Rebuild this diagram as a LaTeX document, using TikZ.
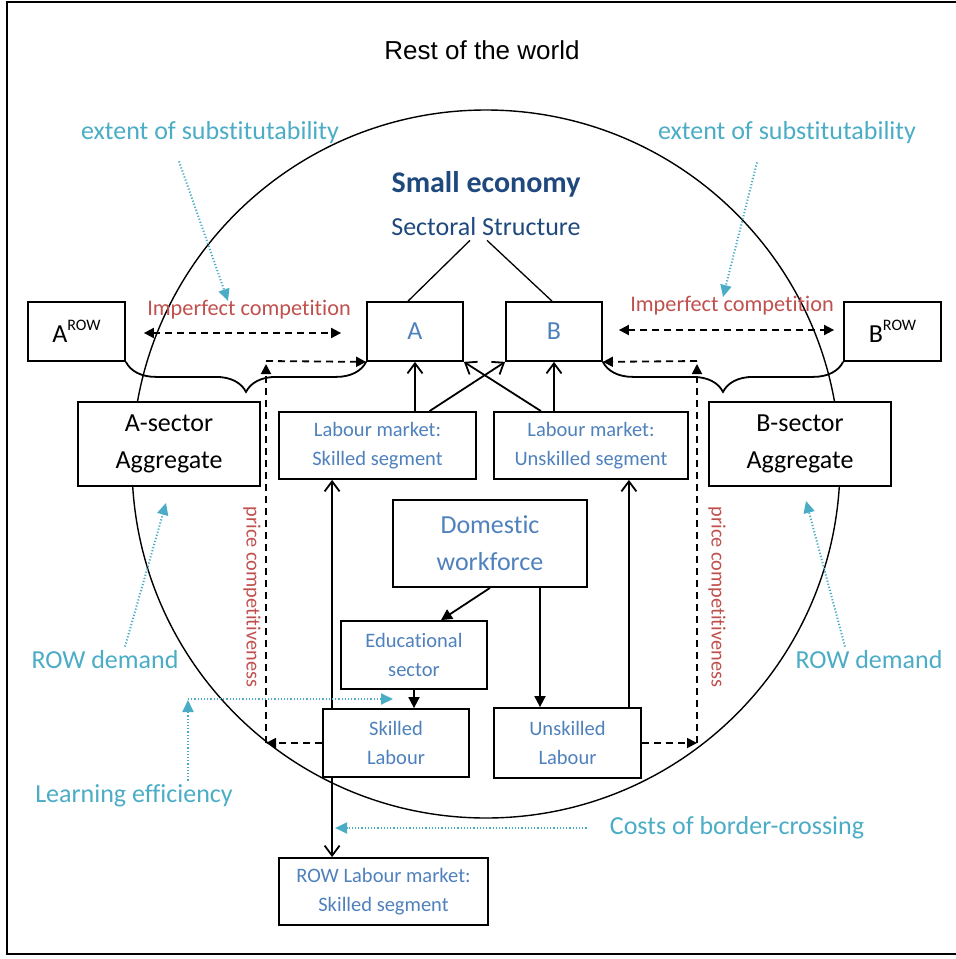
\documentclass[tikz,border=0pt]{standalone}
\usepackage{fontspec}
\setmainfont[Ligatures=CommonOff]{Carlito}
\newfontfamily\arialfont{Liberation Sans}
\usetikzlibrary{arrows.meta,decorations.pathreplacing}

\definecolor{boxblue}{RGB}{79,129,189}
\definecolor{darkblue}{RGB}{31,73,125}
\definecolor{compred}{RGB}{192,80,77}
\definecolor{notecyan}{RGB}{75,172,198}

\begin{document}
\begin{tikzpicture}[x=1pt,y=-1pt,line width=1.8pt,
    box/.style = {draw, fill=white, inner sep=0pt, align=center,
        text=boxblue, font=\fontsize{20.5}{28.5}\selectfont},
    bigbox/.style = {box, font=\fontsize{26}{37}\selectfont},
    aggbox/.style = {bigbox, text=black},
    note/.style = {text=notecyan, font=\fontsize{26}{30}\selectfont},
    comp/.style = {text=compred, font=\fontsize{22.3}{26}\selectfont},
    flow/.style = {-{Straight Barb[length=10pt,width=15pt]}},
    push/.style = {-{Triangle[length=11pt,width=11pt]}},
    link/.style = {dash pattern=on 7pt off 5pt,
        -{Triangle[length=10pt,width=10pt]}},
    hint/.style = {notecyan, line width=2pt, dash pattern=on 1.2pt off 2pt,
        -{Triangle[length=12pt,width=11pt]}}]

\useasboundingbox (0,0) rectangle (956,959);

% Rest of the world
\draw[line width=2pt] (962,1.5) -- (7,1.5) -- (7,954) -- (962,954);
\node[font=\arialfont\fontsize{26}{30}\selectfont] (world) at (482,50) {Rest of the world};

% Small economy
\draw[line width=1.4pt] (486,464) circle[radius=354];
\node[text=darkblue, font=\bfseries\fontsize{30}{34}\selectfont] (eco) at (486,184) {Small economy};
\node[text=darkblue, font=\fontsize{26}{30}\selectfont] (sect) at (486,227) {Sectoral Structure};

% Sectors
\node[box, minimum width=96pt, minimum height=59pt, font=\fontsize{26}{30}\selectfont] (A) at (415,331.5) {A};
\node[box, minimum width=96pt, minimum height=59pt, font=\fontsize{26}{30}\selectfont] (B) at (554,331.5) {B};
\node[aggbox, minimum width=97pt, minimum height=59pt] (AROW) at (76.5,331.5)
    {A\raisebox{12pt}{\fontsize{16}{16}\selectfont ROW}};
\node[aggbox, minimum width=97pt, minimum height=59pt] (BROW) at (892.5,331.5)
    {B\raisebox{12pt}{\fontsize{16}{16}\selectfont ROW}};
\node[aggbox, minimum width=182pt, minimum height=84pt] (Aagg) at (169,444) {A-sector\\Aggregate};
\node[aggbox, minimum width=182pt, minimum height=84pt] (Bagg) at (800,444) {B-sector\\Aggregate};

\draw[line width=1.3pt] ([xshift=-16pt]sect.south) -- ([xshift=-7pt]A.north);
\draw[line width=1.3pt] ([xshift=1pt]sect.south) -- ([xshift=-2pt]B.north);

\draw[decorate, decoration={brace, mirror, amplitude=30pt}] (AROW.south east) -- (A.south west);
\draw[decorate, decoration={brace, mirror, amplitude=30pt}] (B.south east) -- (BROW.south west);

% Labour markets
\node[box, minimum width=197pt, minimum height=67pt] (LMs) at (377.5,445.5) {Labour market:\\Skilled segment};
\node[box, minimum width=194pt, minimum height=67pt] (LMu) at (591,445.5) {Labour market:\\Unskilled segment};
\node[box, minimum width=209pt, minimum height=67pt] (ROWLM) at (383.5,891.5) {ROW Labour market:\\Skilled segment};

\draw[flow] (LMs.north -| A.south) -- (A.south);
\draw[flow] ([xshift=52pt]LMs.north) -- (B.south west);
\draw[flow] ([xshift=-50pt]LMu.north) -- (A.south east);
\draw[flow] (LMu.north -| B.south) -- (B.south);

% Workforce
\node[bigbox, minimum width=194pt, minimum height=87pt] (Dom) at (490,543.5) {Domestic\\workforce};
\node[box, minimum width=146pt, minimum height=68pt] (Edu) at (414,655) {Educational\\sector};
\node[box, minimum width=146pt, minimum height=68pt] (SkL) at (396,743) {Skilled\\Labour};
\node[box, minimum width=147pt, minimum height=70pt] (UnL) at (567.5,743) {Unskilled\\Labour};

\draw[push] (Dom.south) -- ([xshift=27pt]Edu.north);
\coordinate (dw) at ([xshift=-27.5pt]UnL.north);
\draw[push] (dw |- Dom.south) -- (dw);
\draw[push] (Edu.south) -- (Edu.south |- SkL.north);

\coordinate (sk) at ([xshift=10pt]SkL.north west);
\draw[flow] (sk) -- (sk |- LMs.south);
\draw[flow] (sk |- SkL.south) -- (sk |- ROWLM.north);
\coordinate (un) at ([xshift=-13pt]UnL.north east);
\draw[flow] (un) -- (un |- LMu.south);

% Price competitiveness
\coordinate (pcA) at (266,361);
\draw[link] (SkL.west) -- (SkL.west -| pcA);
\draw[link] (SkL.west -| pcA) -- ([yshift=-3pt]pcA);
\draw[link] (pcA) -- (A.south west);
\coordinate (pcB) at (697,361);
\draw[link] (UnL.east) -- (UnL.east -| pcB);
\draw[link] (UnL.east -| pcB) -- ([yshift=-3pt]pcB);
\draw[link] (pcB) -- (B.south east);
\node[comp, rotate=-90, font=\fontsize{20.3}{24}\selectfont] (pcl) at (252,597) {price competitiveness};
\node[comp, rotate=-90, font=\fontsize{20.3}{24}\selectfont] (pcr) at (717,597) {price competitiveness};

% Imperfect competition
\node[comp] (icl) at (249,310) {Imperfect competition};
\node[comp] (icr) at (732,306) {Imperfect competition};
\draw[link, {Triangle[length=10pt,width=10pt]}-{Triangle[length=10pt,width=10pt]}]
    ([xshift=18pt,yshift=-1.5pt]AROW.east) -- ([xshift=-25pt,yshift=-1.5pt]A.west);
\draw[link, {Triangle[length=10pt,width=10pt]}-{Triangle[length=10pt,width=10pt]}]
    ([xshift=16pt,yshift=1.5pt]B.east) -- ([xshift=-9pt,yshift=1.5pt]BROW.west);

% Notes
\node[note] (subl) at (210,133) {extent of substitutability};
\node[note] (subr) at (787,133) {extent of substitutability};
\node[note] (dmdl) at (105,660) {ROW demand};
\node[note] (dmdr) at (869,660) {ROW demand};
\node[note] (learn) at (134,796) {Learning efficiency};
\node[note] (cost) at (737,828) {Costs of border-crossing};

\coordinate (subl-tip) at (228,301);
\coordinate (subr-tip) at (723,297);
\coordinate (learn-c) at (188,699);
\draw[hint] ([xshift=-31pt,yshift=-13pt]subl.south) -- (subl-tip);
\draw[hint] ([xshift=-30pt,yshift=-14pt]subr.south) -- (subr-tip);
\draw[hint] ([xshift=20pt]dmdl.north) -- ([xshift=-3pt,yshift=-16pt]Aagg.south);
\draw[hint] ([xshift=-24pt]dmdr.north) -- ([xshift=6pt,yshift=-14pt]Bagg.south);
\draw[hint] (learn.north -| learn-c) -- ([yshift=-1pt]learn-c);
\draw[hint] (learn-c) -- ([xshift=-3pt]learn-c -| SkL.center);
\draw[hint] ([xshift=-19pt]cost.west) -- ([xshift=3pt]cost.west -| sk);
\end{tikzpicture}
\end{document}
